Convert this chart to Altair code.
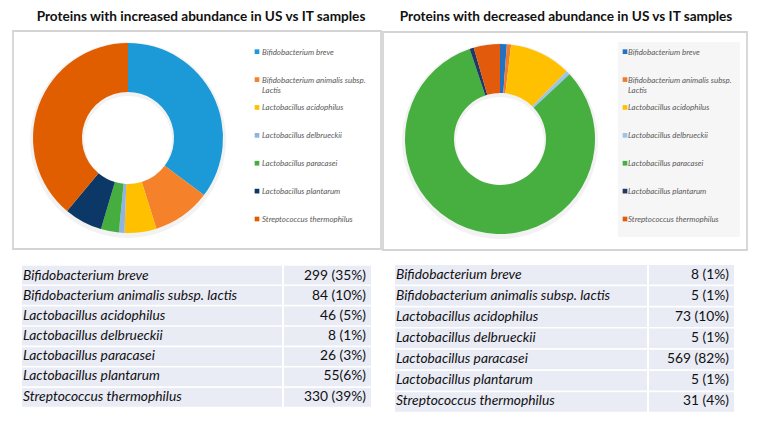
import altair as alt
import pandas as pd

# ---- data ----
species = [
    "Bifidobacterium breve",
    "Bifidobacterium animalis subsp. lactis",
    "Lactobacillus acidophilus",
    "Lactobacillus delbrueckii",
    "Lactobacillus paracasei",
    "Lactobacillus plantarum",
    "Streptococcus thermophilus",
]
legend_names = [
    "Bifidobacterium breve",
    "Bifidobacterium animalis subsp. Lactis",
    "Lactobacillus acidophilus",
    "Lactobacillus delbrueckii",
    "Lactobacillus paracasei",
    "Lactobacillus plantarum",
    "Streptococcus thermophilus",
]
increased_counts = [299, 84, 46, 8, 26, 55, 330]
increased_labels = ["299 (35%)", "84 (10%)", "46 (5%)", "8 (1%)", "26 (3%)", "55(6%)", "330 (39%)"]
decreased_counts = [8, 5, 73, 5, 569, 5, 31]
decreased_labels = ["8 (1%)", "5 (1%)", "73 (10%)", "5 (1%)", "569 (82%)", "5 (1%)", "31 (4%)"]

title_inc = "Proteins with increased abundance in US vs IT samples"
title_dec = "Proteins with decreased abundance in US vs IT samples"

# ---- styles ----
colors_inc = ["#1B9AD7", "#F5822A", "#FFC000", "#8FB4E3", "#46AE3E", "#0B3866", "#E05E00"]
colors_dec = ["#2272C4", "#EE7D31", "#FFC000", "#9DC3E6", "#47AF3F", "#1F3864", "#E25A0B"]
FONT = "Lato"

df_inc = pd.DataFrame({"species": species, "legend": legend_names, "count": increased_counts,
                       "label": increased_labels, "idx": list(range(len(species)))})
df_dec = pd.DataFrame({"species": species, "legend": legend_names, "count": decreased_counts,
                       "label": decreased_labels, "idx": list(range(len(species)))})
one = pd.DataFrame({"k": [0]})


def box(x1, x2, y1, y2, fill, stroke=None, sw=0):
    kw = dict(fill=fill)
    if stroke:
        kw.update(stroke=stroke, strokeWidth=sw)
    return alt.Chart(one).mark_rect(**kw).encode(
        x=alt.value(x1), x2=alt.value(x2), y=alt.value(y1), y2=alt.value(y2))


def title(text, x):
    return alt.Chart(one).mark_text(font=FONT, fontSize=13.6, fontWeight="bold", color="#111111",
                                    align="center", baseline="alphabetic").encode(
        x=alt.value(x), y=alt.value(12.5), text=alt.value(text))


def shadow(cx, cy):
    return alt.Chart(one).mark_arc(innerRadius=44, outerRadius=98, color="#000000", opacity=0.05).encode(
        theta=alt.value(6.2832), x=alt.value(cx), y=alt.value(cy + 2))


def donut(df, colors, cx, cy):
    return alt.Chart(df).mark_arc(innerRadius=46, outerRadius=95).encode(
        theta=alt.Theta("count:Q", stack=True),
        color=alt.Color("species:N", scale=alt.Scale(domain=species, range=colors), legend=None),
        order=alt.Order("idx:Q"),
        x=alt.value(cx), y=alt.value(cy))


def legend(df, colors, mx, tx):
    ysc = alt.Scale(domain=species, range=[43.7, 211], padding=0)
    sq = alt.Chart(df).mark_square(size=22, opacity=1).encode(
        x=alt.value(mx), y=alt.Y("species:N", scale=ysc, axis=None),
        color=alt.Color("species:N", scale=alt.Scale(domain=species, range=colors), legend=None))
    tx_ = alt.Chart(df).transform_calculate(
        lg="replace(datum.legend, 'subsp. ', 'subsp.\\n')"
    ).mark_text(font=FONT, fontSize=7.9, fontStyle="italic", color="#595959", align="left",
                baseline="alphabetic", dy=3, lineBreak="\n", lineHeight=10).encode(
        x=alt.value(tx), y=alt.Y("species:N", scale=ysc, axis=None), text="lg:N")
    return [sq, tx_]


def table(df, x1, xdiv, x2, y1, y2, tname, tval):
    ysc = alt.Scale(domain=species, range=[y1, y2], paddingInner=0.08, paddingOuter=0)
    r1 = alt.Chart(df).mark_rect(color="#E9EBF5").encode(
        y=alt.Y("species:N", scale=ysc, axis=None), x=alt.value(x1), x2=alt.value(xdiv - 1))
    r2 = alt.Chart(df).mark_rect(color="#E9EBF5").encode(
        y=alt.Y("species:N", scale=ysc, axis=None), x=alt.value(xdiv + 1), x2=alt.value(x2))
    t1 = alt.Chart(df).mark_text(font=FONT, fontSize=13.8, fontStyle="italic", color="#111111",
                                 align="left", baseline="middle").encode(
        y=alt.Y("species:N", scale=ysc, axis=None), x=alt.value(tname), text="species:N")
    t2 = alt.Chart(df).mark_text(font=FONT, fontSize=13.8, color="#111111",
                                 align="right", baseline="middle").encode(
        y=alt.Y("species:N", scale=ysc, axis=None), x=alt.value(tval), text="label:N")
    return [r1, r2, t1, t2]


layers = [
    box(5, 373, 23, 241, "white", "#D4D4D4", 1.8),
    box(375, 739, 24, 242, "white", "#D4D4D4", 1.8),
    box(610, 732, 34, 229, "#F6F6F6"),
    title(title_inc, 193),
    title(title_dec, 558),
    shadow(120, 130),
    shadow(492, 131),
    donut(df_inc, colors_inc, 120, 130),
    donut(df_dec, colors_dec, 492, 131),
]
layers += legend(df_inc, colors_inc, 249, 254)
layers += legend(df_dec, colors_dec, 617, 620)
layers += table(df_inc, 14, 275, 363, 257.7, 398.7, 15, 358)
layers += table(df_dec, 387, 640, 726, 257, 403.7, 388, 721)

chart = alt.layer(*layers).resolve_scale(
    y="independent", color="independent", theta="independent"
).properties(
    width=745, height=408, padding=0, autosize=alt.AutoSizeParams(type="none")
).configure_view(stroke=None)

chart.save("out.html", embed_options={"renderer": "svg", "actions": False})
